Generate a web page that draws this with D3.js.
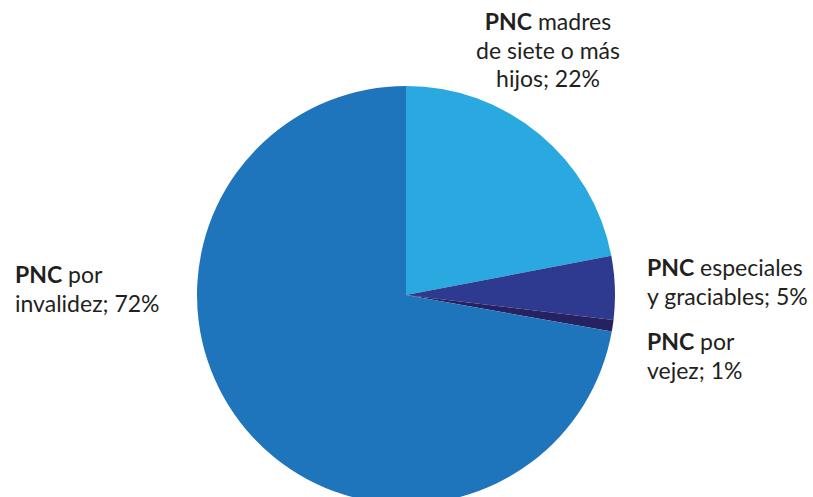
<!DOCTYPE html>
<html>
<head>
<meta charset="utf-8">
<script src="https://cdn.jsdelivr.net/npm/d3@7"></script>
<style>
  body { margin: 0; background: #fff; }
  svg { display: block; font-family: Lato, "Open Sans", sans-serif; }
</style>
</head>
<body>
<div id="chart"></div>
<script>
// Données (ordre horaire depuis midi)
const categories = ["madres", "especiales", "vejez", "invalidez"];
const values = [22, 4.9, 0.9, 72.2];
const colors = ["#29a9e0", "#2e3a8f", "#262262", "#1f75bc"];

// Libellés : partie en gras + lignes suivantes
const labelLines = [
  [["PNC", " madres"], ["de siete o más"], ["hijos; 22%"]],
  [["PNC", " especiales"], ["y graciables; 5%"]],
  [["PNC", " por"], ["vejez; 1%"]],
  [["PNC", " por"], ["invalidez; 72%"]]
];

const width = 813;
const height = 497;
const cx = 406;
const cy = 295;
const radius = 209;

const svg = d3.select("#chart")
  .append("svg")
  .attr("width", width)
  .attr("height", height);

const pie = d3.pie().sort(null).value(d => d)(values);
const arc = d3.arc().innerRadius(0).outerRadius(radius);

svg.append("g")
  .attr("transform", `translate(${cx}, ${cy})`)
  .selectAll("path")
  .data(pie)
  .join("path")
  .attr("d", arc)
  .attr("fill", (d, i) => colors[i]);

// Position des libellés
const labelPos = [
  { x: 548, y: 30, anchor: "middle" },
  { x: 647, y: 276, anchor: "start" },
  { x: 647, y: 350, anchor: "start" },
  { x: 15, y: 283, anchor: "start" }
];
const lineH = 28.5;

labelLines.forEach((lines, i) => {
  const p = labelPos[i];
  const t = svg.append("text")
    .attr("x", p.x)
    .attr("y", p.y)
    .attr("text-anchor", p.anchor)
    .attr("font-size", "23px")
    .attr("fill", "#231f20");
  lines.forEach((parts, j) => {
    if (parts.length === 2) {
      t.append("tspan")
        .attr("x", p.x)
        .attr("dy", j === 0 ? 0 : lineH)
        .attr("font-weight", "bold")
        .text(parts[0]);
      t.append("tspan").text(parts[1]);
    } else {
      t.append("tspan")
        .attr("x", p.x)
        .attr("dy", j === 0 ? 0 : lineH)
        .text(parts[0]);
    }
  });
});
</script>
</body>
</html>
